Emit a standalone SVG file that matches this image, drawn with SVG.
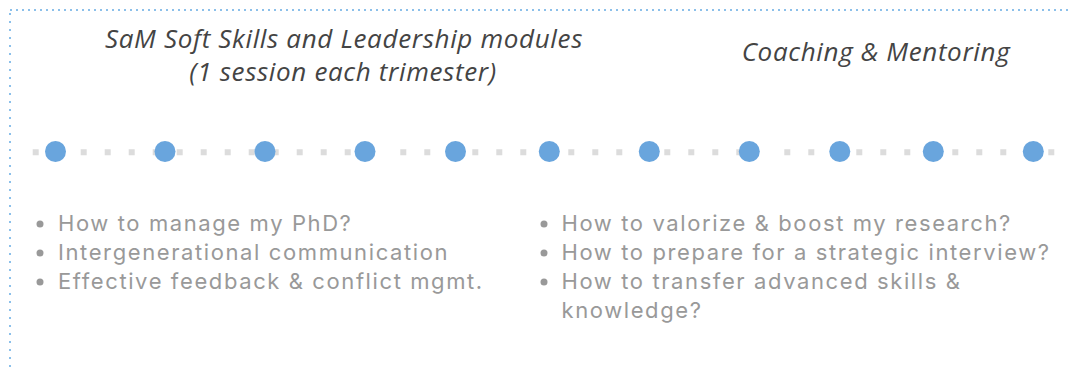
<svg xmlns="http://www.w3.org/2000/svg" width="1068" height="372" viewBox="0 0 1068 372">
  <style>
    .frame { stroke: #8cc0ea; stroke-width: 2; fill: none; }
    .track { stroke: #dcdcdc; stroke-width: 6; stroke-dasharray: 6 18; fill: none; }
    .node { fill: #69a5dd; }
    .head { font-family: "Open Sans", "Lato", sans-serif; font-style: italic; font-size: 26px; letter-spacing: 0.65px; fill: #444444; text-anchor: middle; }
    .item { font-family: "Inter", "Noto Sans", sans-serif; font-size: 22px; letter-spacing: 1.6px; fill: #999999; }
    .bullet { fill: #999999; }
  </style>
  <rect width="1068" height="372" fill="#ffffff"/>
  <g id="frame">
    <line class="frame" x1="10" y1="10" x2="1068" y2="10" stroke-dasharray="2 4"/>
    <line class="frame" x1="10" y1="13" x2="10" y2="372" stroke-dasharray="2 6"/>
  </g>
  <g id="connectors">
    <line class="track" x1="32.7" y1="152.3" x2="376" y2="152.3"/>
    <line class="track" x1="400.3" y1="152.3" x2="746" y2="152.3"/>
    <line class="track" x1="784.3" y1="152.3" x2="1058" y2="152.3"/>
  </g>
  <g id="node-1"><circle class="node" cx="55.5" cy="151.5" r="10.5"/></g>
  <g id="node-2"><circle class="node" cx="165" cy="151.5" r="10.5"/></g>
  <g id="node-3"><circle class="node" cx="265" cy="151.5" r="10.5"/></g>
  <g id="node-4"><circle class="node" cx="365" cy="151.5" r="10.5"/></g>
  <g id="node-5"><circle class="node" cx="455.5" cy="151.5" r="10.5"/></g>
  <g id="node-6"><circle class="node" cx="549.3" cy="151.5" r="10.5"/></g>
  <g id="node-7"><circle class="node" cx="649.3" cy="151.5" r="10.5"/></g>
  <g id="node-8"><circle class="node" cx="749.3" cy="151.5" r="10.5"/></g>
  <g id="node-9"><circle class="node" cx="839.8" cy="151.5" r="10.5"/></g>
  <g id="node-10"><circle class="node" cx="933.3" cy="151.5" r="10.5"/></g>
  <g id="node-11"><circle class="node" cx="1033.3" cy="151.5" r="10.5"/></g>
  <g id="title-modules">
    <text class="head" x="344" y="48">SaM Soft Skills and Leadership modules</text>
    <text class="head" x="343" y="81">(1 session each trimester)</text>
  </g>
  <g id="title-coaching">
    <text class="head" x="876" y="61">Coaching &amp; Mentoring</text>
  </g>
  <g id="list-modules">
    <circle class="bullet" cx="40" cy="224" r="3.5"/>
    <circle class="bullet" cx="40" cy="253" r="3.5"/>
    <circle class="bullet" cx="40" cy="282" r="3.5"/>
    <text class="item" x="58" y="231">How to manage my PhD?</text>
    <text class="item" x="58" y="260">Intergenerational communication</text>
    <text class="item" x="58" y="289">Effective feedback &amp; conflict mgmt.</text>
  </g>
  <g id="list-coaching">
    <circle class="bullet" cx="544" cy="224" r="3.5"/>
    <circle class="bullet" cx="544" cy="253" r="3.5"/>
    <circle class="bullet" cx="544" cy="282" r="3.5"/>
    <text class="item" x="561.5" y="231">How to valorize &amp; boost my research?</text>
    <text class="item" x="561.5" y="260">How to prepare for a strategic interview?</text>
    <text class="item" x="561.5" y="289">How to transfer advanced skills &amp;</text>
    <text class="item" x="561.5" y="318">knowledge?</text>
  </g>
</svg>
